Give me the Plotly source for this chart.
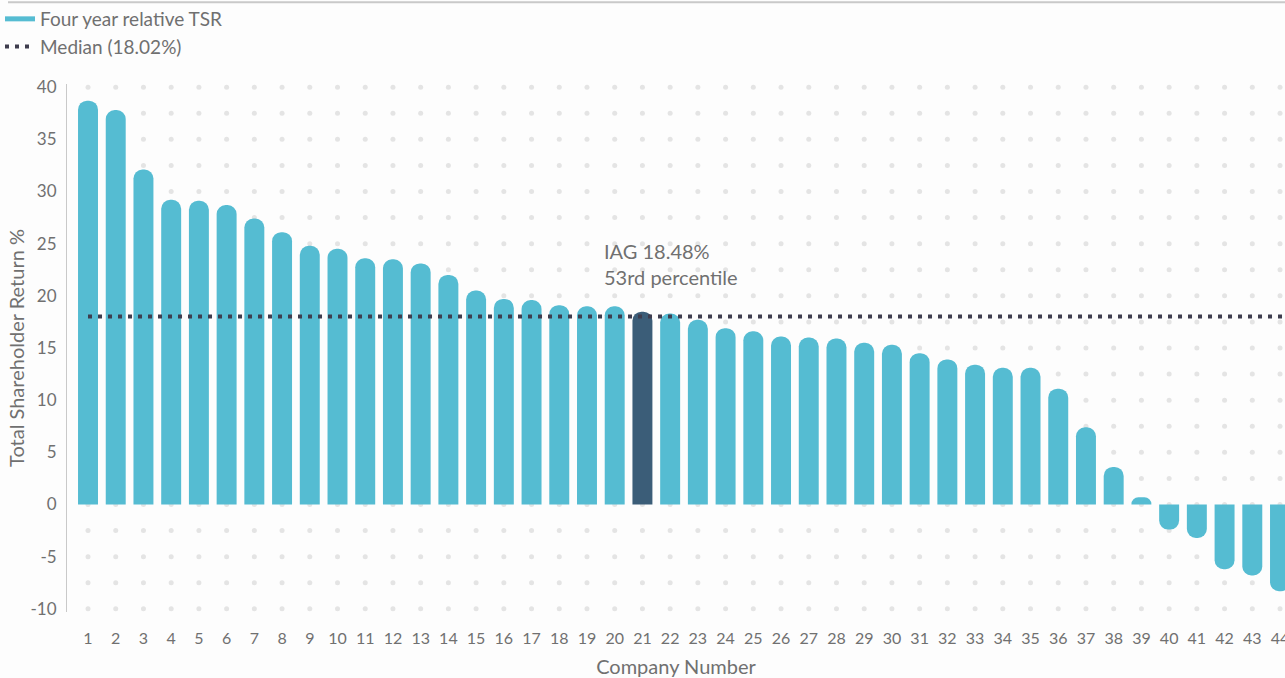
import plotly.graph_objects as go

# Four-year relative TSR by company, ranked
companies = list(range(1, 45))
tsr = [38.7, 37.8, 32.1, 29.2, 29.1, 28.7, 27.4, 26.1, 24.8, 24.5,
       23.6, 23.5, 23.1, 22.0, 20.5, 19.7, 19.6, 19.1, 19.0, 19.0,
       18.48, 18.3, 17.7, 16.9, 16.6, 16.1, 16.0, 15.9, 15.5, 15.3,
       14.5, 13.9, 13.4, 13.1, 13.1, 11.1, 7.4, 3.6, 0.7, -2.4,
       -3.2, -6.2, -6.8, -8.3]
median_tsr = 18.02
iag_company = 21
iag_percentile = "53rd percentile"

y_ticks = [-10, -5, 0, 5, 10, 15, 20, 25, 30, 35, 40]

BAR = "#55bcd2"
IAG = "#3b5d78"
MEDIAN = "#3e3d4e"
TEXT = "#707070"
DOT = "#e4e4e4"
FONT = "Lato, 'Noto Sans', sans-serif"

X_RANGE = [0.242, 44.18]
Y_RANGE = [-10.3, 40.3]

iag_value = tsr[companies.index(iag_company)]
bar_colors = [IAG if c == iag_company else BAR for c in companies]

# background dot grid: one dot per company column at every 2.5 % step
grid_cols = companies + [companies[-1] + 1]
grid_rows = [y_ticks[0] + 2.5 * i for i in range(int((y_ticks[-1] - y_ticks[0]) / 2.5) + 1)]
grid_x = [c for _ in grid_rows for c in grid_cols]
grid_y = [r for r in grid_rows for _ in grid_cols]

fig = go.Figure()

# dot grid lives on the base axes so it sits underneath the bars
fig.add_trace(go.Scatter(
    x=grid_x, y=grid_y, mode="markers", xaxis="x", yaxis="y",
    marker=dict(symbol="circle", size=5, color=DOT),
    hoverinfo="skip", showlegend=False,
))

fig.add_trace(go.Bar(
    x=companies, y=tsr, xaxis="x2", yaxis="y2",
    marker=dict(color=bar_colors, line=dict(width=0)),
    showlegend=False, name="Four year relative TSR",
))

# legend swatch for the bars (short horizontal line)
fig.add_trace(go.Scatter(
    x=[None], y=[None], mode="lines", xaxis="x2", yaxis="y2",
    line=dict(color=BAR, width=5),
    name="Four year relative TSR",
))

fig.add_trace(go.Scatter(
    x=[companies[0], companies[-1] + 1], y=[median_tsr, median_tsr],
    xaxis="x2", yaxis="y2",
    mode="lines", line=dict(color=MEDIAN, width=4, dash="4px,6px"),
    name=f"Median ({median_tsr:.2f}%)", hoverinfo="skip",
))

fig.add_annotation(
    x=iag_company - 1.45, y=iag_value + 4.6, xref="x2", yref="y2",
    text=f"IAG {iag_value:.2f}%<br>{iag_percentile}",
    showarrow=False, xanchor="left", yanchor="middle", align="left",
    font=dict(family=FONT, size=20, color=TEXT),
)

plot_left, plot_right = 67, 1285
fig.add_shape(
    type="line", xref="paper", yref="paper",
    x0=(8 - plot_left) / (plot_right - plot_left), x1=1,
    y0=(612 - 1) / 529, y1=(612 - 1) / 529,
    line=dict(color="#c9c9c9", width=2),
)

fig.update_layout(
    template="none",
    width=1285, height=678,
    margin=dict(l=67, r=0, t=83, b=66),
    paper_bgcolor="#fdfdfd", plot_bgcolor="#fdfdfd",
    font=dict(family=FONT, size=16, color=TEXT),
    bargap=0.28,
    barcornerradius=10,
    showlegend=True,
    legend=dict(
        x=-67 / 1218, xanchor="left", y=(612 + 1) / 529, yanchor="top",
        bgcolor="rgba(0,0,0,0)", font=dict(family=FONT, size=19, color=TEXT),
        itemwidth=30, tracegroupgap=0,
    ),
    xaxis=dict(
        range=X_RANGE, tickmode="array", tickvals=companies,
        ticktext=[str(c) for c in companies],
        showgrid=False, zeroline=False, showline=False,
        ticks="outside", ticklen=12, tickcolor="rgba(0,0,0,0)",
        ticklabeloverflow="allow",
        tickfont=dict(family=FONT, size=16, color=TEXT),
        title=dict(text="Company Number", font=dict(family=FONT, size=20, color=TEXT), standoff=14),
        automargin=False, fixedrange=True,
    ),
    yaxis=dict(
        range=Y_RANGE, tickmode="array", tickvals=y_ticks,
        ticktext=[str(v) for v in y_ticks],
        showgrid=False, zeroline=False, showline=True, linecolor="#c9c9c9", linewidth=1,
        ticks="outside", ticklen=6, tickcolor="rgba(0,0,0,0)",
        tickfont=dict(family=FONT, size=17, color=TEXT),
        title=dict(text="Total Shareholder Return %", font=dict(family=FONT, size=20, color=TEXT), standoff=0),
        automargin=False, fixedrange=True,
    ),
    xaxis2=dict(
        overlaying="x", range=X_RANGE, visible=False, showgrid=False,
        zeroline=False, fixedrange=True,
    ),
    yaxis2=dict(
        overlaying="y", range=Y_RANGE, visible=False, showgrid=False,
        zeroline=False, fixedrange=True,
    ),
)

fig.write_html("out.html", config={"displayModeBar": False})
